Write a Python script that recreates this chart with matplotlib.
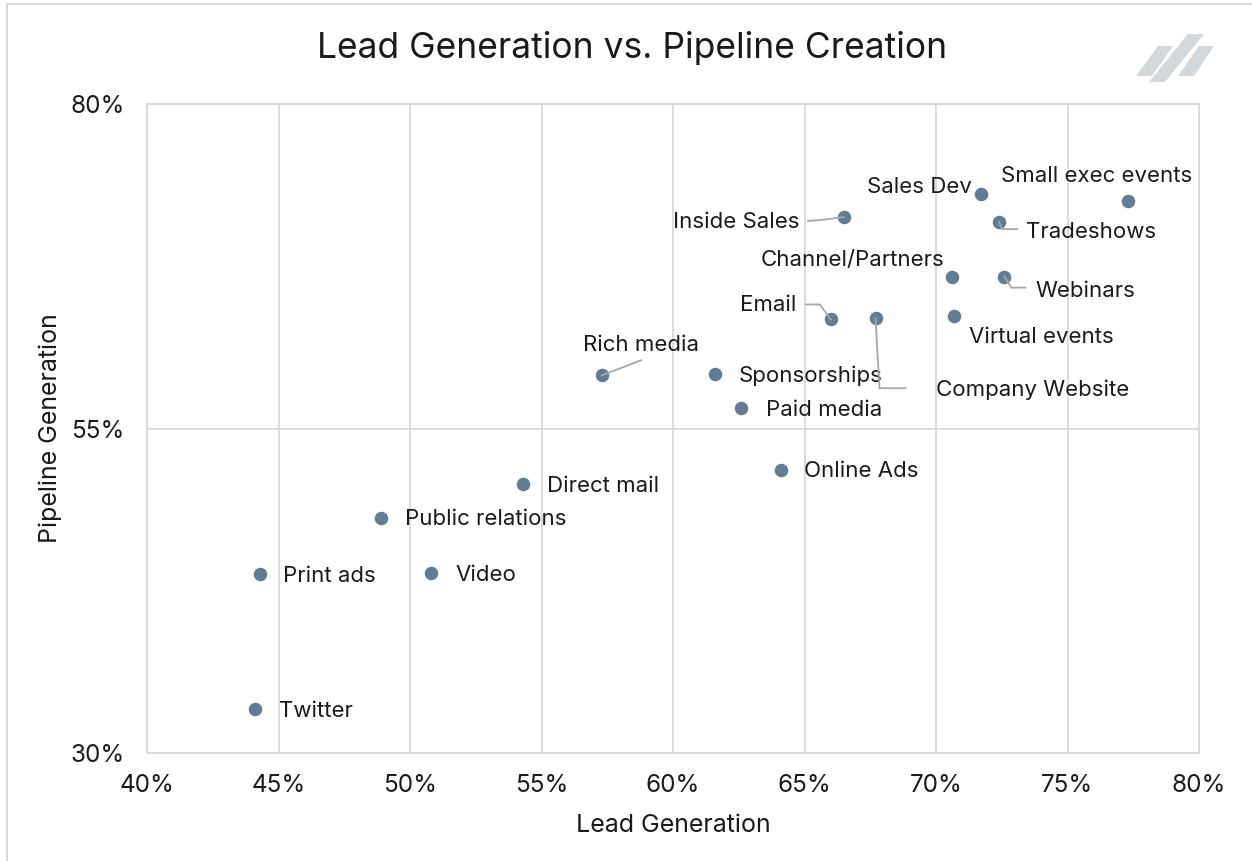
import matplotlib
matplotlib.use("Agg")
import matplotlib.pyplot as plt
from matplotlib.patches import Polygon
from matplotlib.ticker import FuncFormatter
from matplotlib.transforms import IdentityTransform

# ---- data ----
channels = ["Small exec events", "Sales Dev", "Inside Sales", "Tradeshows",
            "Channel/Partners", "Webinars", "Email", "Company Website",
            "Virtual events", "Rich media", "Sponsorships", "Paid media",
            "Online Ads", "Direct mail", "Public relations", "Video",
            "Print ads", "Twitter"]
lead_gen = [77.3, 71.7, 66.5, 72.4, 70.6, 72.6, 66.0, 67.7, 70.7, 57.3,
            61.6, 62.6, 64.1, 54.3, 48.9, 50.8, 44.3, 44.1]
pipeline_gen = [72.5, 73.1, 71.3, 70.9, 66.7, 66.7, 63.4, 63.5, 63.7, 59.1,
                59.2, 56.6, 51.8, 50.7, 48.1, 43.9, 43.8, 33.4]

x_ticks = [40, 45, 50, 55, 60, 65, 70, 75, 80]
y_ticks = [30, 55, 80]

# ---- layout (label placement, pixel offsets from each point) ----
label_layout = {
    "Small exec events": ("center", -31, 25),
    "Sales Dev": ("right", -9, 7),
    "Inside Sales": ("right", -44, -5),
    "Tradeshows": ("left", 27, -10),
    "Channel/Partners": ("right", -7, 17),
    "Webinars": ("left", 31, -14),
    "Email": ("right", -34, 14),
    "Company Website": ("left", 60, -72),
    "Virtual events": ("left", 15, -21),
    "Rich media": ("center", 39, 30),
    "Sponsorships": ("left", 24, -2),
    "Paid media": ("left", 25, -2),
    "Online Ads": ("left", 23, -1),
    "Direct mail": ("left", 24, -2),
    "Public relations": ("left", 24, -1),
    "Video": ("left", 24, -2),
    "Print ads": ("left", 23, -2),
    "Twitter": ("left", 24, -2),
}
leaders = {
    "Inside Sales": [(0, 0), (-22, -3), (-36, -4)],
    "Tradeshows": [(0, 0), (3, -7), (18, -7)],
    "Webinars": [(0, 0), (7, -11), (21, -11)],
    "Email": [(0, 0), (-11, 15), (-25, 15)],
    "Company Website": [(0, 0), (4, -70), (30, -70)],
    "Rich media": [(0, 0), (39, 15)],
}

FONT = ["Inter", "DejaVu Sans"]
plt.rcParams["font.family"] = FONT
TEXT_COLOR = "#1a1a1a"
GRID_COLOR = "#d9d9d9"
POINT_COLOR = "#627c92"
LABEL_SIZE = 16
TICK_SIZE = 17.5
AXLABEL_SIZE = 18

fig = plt.figure(figsize=(12.52, 8.61), dpi=100)
ax = fig.add_axes([147 / 1252, 1 - 753 / 861, (1199 - 147) / 1252, (753 - 104) / 861])

ax.set_xlim(40, 80)
ax.set_ylim(30, 80)
ax.set_xticks(x_ticks)
ax.set_yticks(y_ticks)
pct = FuncFormatter(lambda v, p: f"{v:.0f}%")
ax.xaxis.set_major_formatter(pct)
ax.yaxis.set_major_formatter(pct)
ax.grid(True, color=GRID_COLOR, linewidth=1.3)
ax.set_axisbelow(True)
for s in ax.spines.values():
    s.set_color(GRID_COLOR)
    s.set_linewidth(1.3)
ax.tick_params(length=0, labelsize=TICK_SIZE, colors=TEXT_COLOR)
ax.tick_params(axis="x", pad=15)
ax.tick_params(axis="y", pad=16)

ax.scatter(lead_gen, pipeline_gen, s=95, color=POINT_COLOR, zorder=3, linewidths=0)

ax.set_xlabel("Lead Generation", fontsize=AXLABEL_SIZE, color=TEXT_COLOR, labelpad=12)
ax.set_ylabel("Pipeline Generation", fontsize=AXLABEL_SIZE, color=TEXT_COLOR, labelpad=6)
fig.text(0.5045, 1 - 48 / 861, "Lead Generation vs. Pipeline Creation",
         ha="center", va="center", fontsize=25.5, color=TEXT_COLOR)

for name, x, y in zip(channels, lead_gen, pipeline_gen):
    ha, dx, dy = label_layout[name]
    ax.annotate(name, (x, y), xytext=(dx, dy), textcoords="offset pixels",
                ha=ha, va="center", fontsize=LABEL_SIZE, color=TEXT_COLOR, zorder=4)

fig.canvas.draw()
for name, pts in leaders.items():
    i = channels.index(name)
    px, py = ax.transData.transform((lead_gen[i], pipeline_gen[i]))
    xs = [px + a for a, b in pts]
    ys = [py + b for a, b in pts]
    line = plt.Line2D(xs, ys, transform=IdentityTransform(), color="#a6a6a6",
                      linewidth=1.3, zorder=2)
    fig.add_artist(line)

# outer frame (left and top edges visible)
H = 861
fig.add_artist(plt.Line2D([7, 7], [0, H - 4], transform=IdentityTransform(),
                          color=GRID_COLOR, linewidth=1.5))
fig.add_artist(plt.Line2D([7, 1252], [H - 4, H - 4], transform=IdentityTransform(),
                          color=GRID_COLOR, linewidth=1.5))

# logo
logo_color = "#d3d8dd"
shapes = [
    [(1136, 76), (1152, 76), (1173, 46), (1158, 46)],
    [(1149, 82), (1165, 82), (1204, 34), (1188, 34)],
    [(1178, 76), (1194, 76), (1214, 46), (1199, 46)],
]
for sh in shapes:
    fig.add_artist(Polygon([(a, H - b) for a, b in sh], closed=True,
                           transform=IdentityTransform(), color=logo_color, lw=0))

fig.savefig("out.png", dpi=100)
